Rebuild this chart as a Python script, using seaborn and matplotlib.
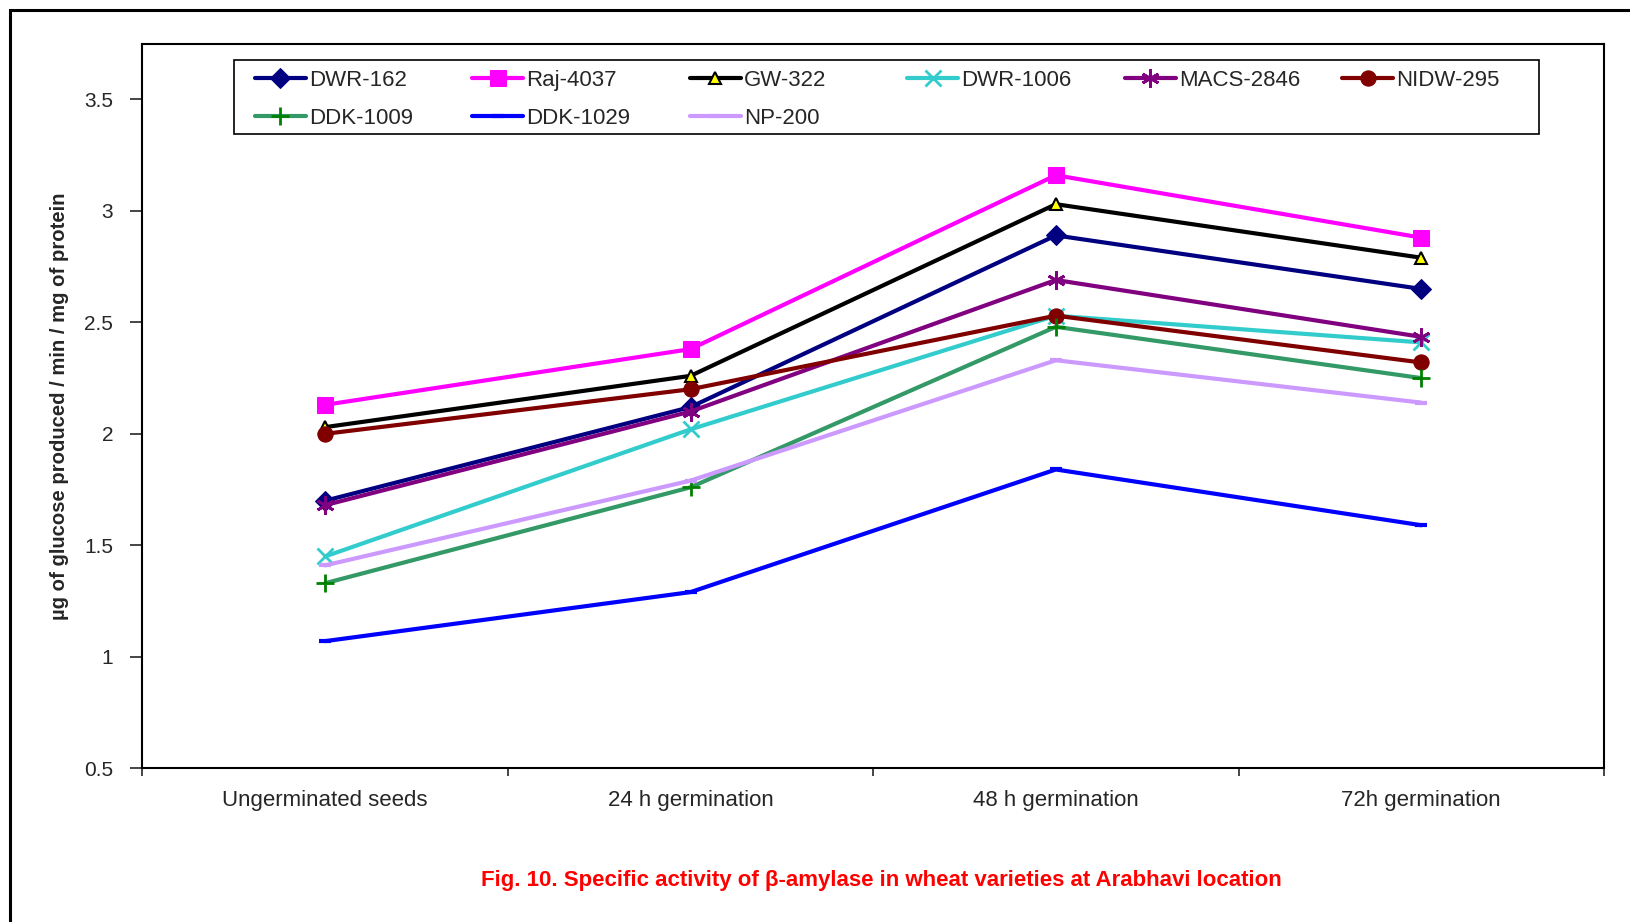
import numpy as np
import pandas as pd
import matplotlib
matplotlib.use('Agg')
import matplotlib.pyplot as plt
import matplotlib.patches as patches
from matplotlib.ticker import FixedLocator
import seaborn as sns

stages = ['Ungerminated seeds', '24 h germination', '48 h germination', '72h germination']

dwr_162 = [1.70, 2.12, 2.89, 2.65]
raj_4037 = [2.13, 2.38, 3.16, 2.88]
gw_322 = [2.03, 2.26, 3.03, 2.79]
dwr_1006 = [1.45, 2.02, 2.53, 2.41]
macs_2846 = [1.68, 2.10, 2.69, 2.435]
nidw_295 = [2.00, 2.20, 2.53, 2.32]
ddk_1009 = [1.33, 1.76, 2.48, 2.25]
ddk_1029 = [1.07, 1.29, 1.84, 1.59]
np_200 = [1.41, 1.79, 2.33, 2.14]

varieties = ['DWR-162', 'Raj-4037', 'GW-322', 'DWR-1006', 'MACS-2846',
             'NIDW-295', 'DDK-1009', 'DDK-1029', 'NP-200']
values = [dwr_162, raj_4037, gw_322, dwr_1006, macs_2846,
          nidw_295, ddk_1009, ddk_1029, np_200]

styles = {
    'DWR-162':   dict(color='#000080', marker='D', markersize=10, mfc='#000080', mec='#000080'),
    'Raj-4037':  dict(color='#FF00FF', marker='s', markersize=11, mfc='#FF00FF', mec='#FF00FF'),
    'GW-322':    dict(color='#000000', marker='^', markersize=8, mfc='#FFFF00', mec='#000000', mew=1.5),
    'DWR-1006':  dict(color='#33CCCC', marker='x', markersize=11, mec='#33CCCC', mew=2),
    'MACS-2846': dict(color='#800080', marker=(6, 2, 0), markersize=13, mec='#800080', mew=2),
    'NIDW-295':  dict(color='#800000', marker='o', markersize=11, mfc='#800000', mec='#800000'),
    'DDK-1009':  dict(color='#339966', marker='+', markersize=13, mec='#008000', mew=2),
    'DDK-1029':  dict(color='#0000FF', marker='_', markersize=8, mec='#0000FF', mew=3),
    'NP-200':    dict(color='#CC99FF', marker='_', markersize=8, mec='#CC99FF', mew=3),
}

sns.set_style('ticks')
plt.rcParams['font.family'] = ['Liberation Sans', 'DejaVu Sans']

fig = plt.figure(figsize=(16.3, 9.22), dpi=100)
ax = fig.add_axes([0.0874, 0.1668, 0.8966, 0.7858])

for name, vals in zip(varieties, values):
    df = pd.DataFrame({'stage': stages, 'value': vals})
    sns.lineplot(data=df, x='stage', y='value', ax=ax, label=name,
                 linewidth=3, sort=False, **styles[name])

ax.set_xlim(-0.5, 3.5)
ax.set_ylim(0.5, 3.75)
ax.set_yticks([0.5, 1, 1.5, 2, 2.5, 3, 3.5])
ax.set_yticklabels(['0.5', '1', '1.5', '2', '2.5', '3', '3.5'])
ax.set_xticks(range(4))
ax.set_xticklabels(stages)
ax.xaxis.set_minor_locator(FixedLocator([-0.5, 0.5, 1.5, 2.5, 3.5]))
ax.tick_params(axis='x', which='major', length=0, pad=16, labelsize=16)
ax.tick_params(axis='x', which='minor', length=6, width=1.2, direction='out')
ax.tick_params(axis='y', length=9, width=1.2, direction='out', pad=12, labelsize=15)
for sp in ax.spines.values():
    sp.set_visible(True)
    sp.set_linewidth(1.5)
    sp.set_color('black')

ax.set_xlabel('')
ax.set_ylabel('µg of glucose produced / min / mg of protein', fontsize=14.6, fontweight='bold')
ax.yaxis.set_label_coords(-0.0505, 0.5)

# legend: frame drawn separately, columns on an even pitch
ax.add_patch(patches.Rectangle((0.0627, 0.8754), 0.8928, 0.1025, transform=ax.transAxes,
                               facecolor='white', edgecolor='black', linewidth=1.2,
                               zorder=4.5))

handles, labels = ax.get_legend_handles_labels()
hmap = dict(zip(labels, handles))
order = ['DWR-162', 'DDK-1009', 'Raj-4037', 'DDK-1029', 'GW-322', 'NP-200',
         'DWR-1006', 'MACS-2846', 'NIDW-295']
leg = ax.legend([hmap[k] for k in order], order, ncol=6, mode='expand',
                bbox_to_anchor=(0.0767, 0.923, 0.85, 0), loc='center left',
                fontsize=16, frameon=False, handlelength=2.3, handletextpad=0.15,
                borderaxespad=0, borderpad=0, labelspacing=0.75)
leg.set_zorder(5)

fig.canvas.draw()
renderer = fig.canvas.get_renderer()
cols = leg._legend_handle_box.get_children()
maxw = max(c.get_bbox(renderer).width for c in cols)
for c in cols:
    c.align = 'left'
    c.set_width(maxw)
pitch = 217.5
leg.set_bbox_to_anchor((0.0767, 0.923, (5 * pitch + maxw) / ax.bbox.width, 0),
                       transform=ax.transAxes)

fig.text(0.5405, 0.0455,
         'Fig. 10. Specific activity of β-amylase in wheat varieties at Arabhavi location',
         color='#FF0000', fontsize=16, fontweight='bold', ha='center', va='center')

frame = patches.Rectangle((0.0064, -0.1), 1.2, 0.1 + 0.9887, transform=fig.transFigure,
                          fill=False, edgecolor='black', linewidth=2.2)
fig.patches.append(frame)

fig.savefig('out.png', dpi=100)
